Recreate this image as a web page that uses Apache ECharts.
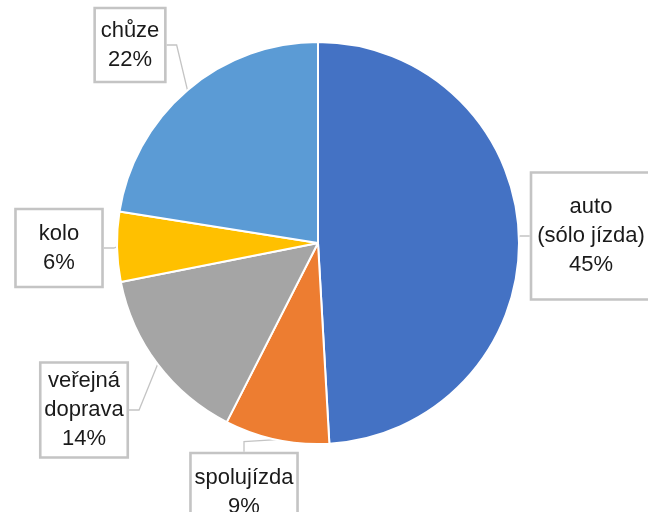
<!DOCTYPE html>
<html>
<head>
<meta charset="utf-8">
<script src="https://cdn.jsdelivr.net/npm/echarts@6/dist/echarts.min.js"></script>
<style>html,body{margin:0;padding:0;background:#fff}#c{width:648px;height:512px}</style>
</head>
<body>
<div id="c"></div>
<script>
// Data
const categories = ['auto\n(sólo jízda)', 'spolujízda', 'veřejná\ndoprava', 'kolo', 'chůze'];
const values = [49.1, 8.4, 14.4, 5.6, 22.5];          // slice sizes as drawn
const percentLabels = ['45%', '9%', '14%', '6%', '22%']; // printed percentages
const colors = ['#4472C4', '#ED7D31', '#A5A5A5', '#FFC000', '#5B9BD5'];

// label layout (positions / paddings / widths only)
const labelPos = [[591, 236], [244, 492], [84, 410], [59, 248], [130, 45]];
const labelPad = [[20, 4], [10, 4], [4, 4], [10, 18], [8, 6]];
const labelWidth = [112, null, null, null, null];

const chart = echarts.init(document.getElementById('c'), null, {renderer: 'canvas'});
chart.setOption({
  animation: false,
  backgroundColor: '#fff',
  series: [{
    type: 'pie',
    center: [318, 243],
    radius: 201,
    startAngle: 90,
    clockwise: true,
    data: categories.map((c, i) => {
      const lbl = {padding: labelPad[i]};
      if (labelWidth[i]) lbl.width = labelWidth[i];
      return {name: c, value: values[i], itemStyle: {color: colors[i]}, label: lbl};
    }),
    itemStyle: {borderColor: '#fff', borderWidth: 2},
    label: {
      show: true,
      position: 'outside',
      overflow: 'none',
      formatter: p => p.name + '\n' + percentLabels[p.dataIndex],
      fontFamily: 'Liberation Sans, Arial, sans-serif',
      fontSize: 22,
      lineHeight: 29,
      color: '#1a1a1a',
      align: 'center',
      borderColor: '#c4c4c4',
      borderWidth: 1.3,
      backgroundColor: 'rgba(255,255,255,0)'
    },
    labelLine: {show: true, length: 10, length2: 10, lineStyle: {color: '#c4c4c4', width: 1.3}},
    labelLayout: p => ({x: labelPos[p.dataIndex][0], y: labelPos[p.dataIndex][1], align: 'center', verticalAlign: 'middle'})
  }]
});
</script>
</body>
</html>
